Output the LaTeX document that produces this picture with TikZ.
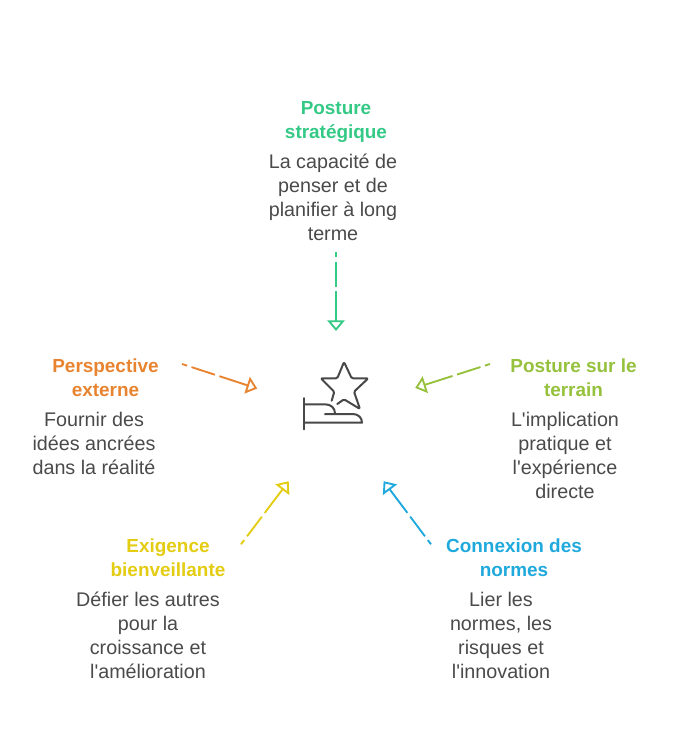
\documentclass[tikz,border=0pt]{standalone}
\usepackage{fontspec}
\setmainfont{Liberation Sans}
\usetikzlibrary{arrows.meta, positioning, calc}
\definecolor{TextGray}{RGB}{74, 74, 74}
\definecolor{IconGray}{RGB}{72, 72, 72}
\definecolor{PostureGreen}{RGB}{52, 201, 133}
\definecolor{TerrainLime}{RGB}{149, 193, 60}
\definecolor{NormesBlue}{RGB}{31, 169, 220}
\definecolor{ExigenceYellow}{RGB}{227, 204, 18}
\definecolor{ExterneOrange}{RGB}{232, 131, 47}

\begin{document}
\begin{tikzpicture}[
  x=0.75pt, y=-0.75pt,
  titre/.style={align=center, inner sep=0pt, font=\fontsize{14.2}{18}\selectfont\bfseries},
  descr/.style={align=center, inner sep=0pt, text=TextGray, font=\fontsize{14.8}{18}\selectfont},
  arr/.style={-{Triangle[open, length=8pt, width=13pt]}, line width=1.4pt,
    dash pattern=on 4pt off 3.5pt on 18.5pt off 3.5pt on 80pt off 1pt},
  icon/.style={draw=IconGray, line width=1.5pt, line cap=round, line join=round}
]
  \useasboundingbox (0,0) rectangle (672,732);

  \node[titre, text=PostureGreen]   (strategique) at (336,121.5) {Posture\\stratégique};
  \node[descr] (strategiqueTxt) at (333,197.5) {La capacité de\\penser et de\\planifier à long\\terme};

  \node[titre, text=TerrainLime]    (terrain) at (573.5,378) {Posture sur le\\terrain};
  \node[descr] (terrainTxt) at (565,455.5) {L\textquotesingle implication\\pratique et\\l\textquotesingle expérience\\directe};

  \node[titre, text=NormesBlue]     (normes) at (514,558) {Connexion des\\normes};
  \node[descr] (normesTxt) at (501,635.5) {Lier les\\normes, les\\risques et\\l\textquotesingle innovation};

  \node[titre, text=ExigenceYellow] (exigence) at (168,558) {Exigence\\bienveillante};
  \node[descr] (exigenceTxt) at (148,635.5) {Défier les autres\\pour la\\croissance et\\l\textquotesingle amélioration};

  \node[titre, text=ExterneOrange]  (externe) at (105.5,378) {Perspective\\externe};
  \node[descr] (externeTxt) at (94,443.5) {Fournir des\\idées ancrées\\dans la réalité};

  % bouts des fleches
  \coordinate (strategiqueOut) at (336,252);
  \coordinate (strategiqueIn)  at (336,331);
  \coordinate (terrainOut)     at (490,364);
  \coordinate (terrainIn)      at (415.2,387.9);
  \coordinate (normesOut)      at (431,544.3);
  \coordinate (normesIn)       at (383.6,481.2);
  \coordinate (exigenceOut)    at (241,544.3);
  \coordinate (exigenceIn)     at (288.7,481.2);
  \coordinate (externeOut)     at (182,364);
  \coordinate (externeIn)      at (257.2,388.5);

  \draw[arr, PostureGreen]   (strategiqueOut) -- (strategiqueIn);
  \draw[arr, TerrainLime]    (terrainOut) -- (terrainIn);
  \draw[arr, NormesBlue]     (normesOut) -- (normesIn);
  \draw[arr, ExigenceYellow] (exigenceOut) -- (exigenceIn);
  \draw[arr, ExterneOrange]  (externeOut) -- (externeIn);

  % etoile et main
  \draw[icon, rounded corners=1pt] (337.3,404) -- (344,399.3) -- (360,409) -- (354,391.7) -- (368.3,378.3)
    -- (351.7,378.3) -- (344,362) -- (337.3,378.3) -- (320.7,378.3) -- (334.3,391.7) -- (331.7,400.7);
  \draw[icon] (304.3,398) -- (304.3,429.3);
  \draw[icon] (304.3,404.3) -- (325,404.3) .. controls (331,404.3) and (335,408) .. (335,413.5);
  \draw[icon] (325,414) -- (353,414) .. controls (358.5,414) and (362,418) .. (362,422.7) -- (304.3,422.7);
\end{tikzpicture}
\end{document}
